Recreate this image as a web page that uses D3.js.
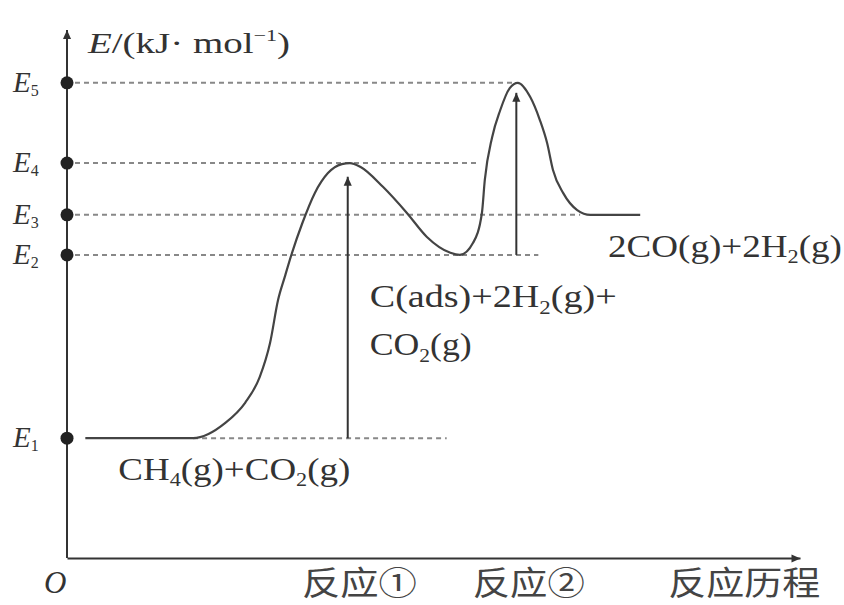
<!DOCTYPE html>
<html>
<head>
<meta charset="utf-8">
<script src="https://cdn.jsdelivr.net/npm/d3@7/dist/d3.min.js"></script>
<style>
  body { margin: 0; background: #fff; }
  svg { display: block; }
</style>
</head>
<body>
<svg id="chart" width="844" height="605"></svg>
<script>
// energy levels marked on the vertical axis (kJ/mol, arbitrary scale)
const levelSubs = ["1", "2", "3", "4", "5"];
const levelEnergy = [22.7, 57.4, 65.0, 74.8, 90.0];
// dashed guide extents along the reaction coordinate
const guideStart = [17.2, 0, 0, 0, 0];
const guideEnd = [51.8, 64.3, 70.0, 56.3, 61.2];

// energy profile along the reaction coordinate
const pathX = [2.5, 17.2, 21.6, 24.3, 26.3, 27.7, 28.8, 29.7, 30.7, 32.1, 33.8, 35.6, 37.5, 38.6,
  40.0, 43.1, 46.4, 49.1, 52.3, 53.6, 55.4, 56.6, 57.0, 58.0, 59.1, 60.4, 61.5,
  63.2, 64.5, 65.5, 66.3, 67.7, 69.6, 71.4, 78.2];
const pathE = [22.7, 22.7, 25.6, 29.4, 34.3, 40.7, 48.9, 53.2, 57.8, 63.4, 69.1, 72.9, 74.6, 74.8,
  74.1, 70.3, 65.3, 60.8, 57.8, 57.4, 59.7, 65.3, 71.6, 79.7, 84.8, 89.0, 90.0,
  87.3, 83.0, 78.6, 73.5, 69.1, 65.9, 65.0, 65.0];

// activation-energy arrows
const arrowX = [38.3, 61.3];
const arrowFrom = [22.7, 57.4];
const arrowTo = [72.2, 88.1];

// species labels ("_n" = subscript)
const speciesText = ["CH_4(g)+CO_2(g)", "C(ads)+2H_2(g)+", "CO_2(g)", "2CO(g)+2H_2(g)"];
const speciesX = [7.0, 41.3, 41.3, 73.8];
const speciesE = [14.8, 47.5, 38.4, 57.0];

const stageLabels = ["反应①", "反应②", "反应历程"];
const stageX = [39.9, 63.0, 92.4];

const width = 844;
const height = 605;
const SERIF = "'Liberation Serif', 'DejaVu Serif', serif";
const CJK = "'Noto Sans CJK SC', sans-serif";
const INK = "#333";

const svg = d3.select("#chart");

const x = d3.scaleLinear().domain([0, 100]).range([67, 800]);
const y = d3.scaleLinear().domain([0, 100]).range([558, 30]);

const defs = svg.append("defs");
defs.append("marker")
  .attr("id", "arrowhead")
  .attr("viewBox", "0 -5 10 10")
  .attr("refX", 10)
  .attr("refY", 0)
  .attr("orient", "auto")
  .attr("markerUnits", "userSpaceOnUse")
  .attr("markerWidth", 13)
  .attr("markerHeight", 9)
  .append("path")
  .attr("d", "M 0,-4.5 L 10,0 L 0,4.5 Z")
  .attr("fill", INK);

// dashed guides
svg.append("g")
  .selectAll("line")
  .data(levelEnergy)
  .join("line")
  .attr("x1", (d, i) => x(guideStart[i]) + (i === 0 ? 0 : 8))
  .attr("x2", (d, i) => x(guideEnd[i]))
  .attr("y1", (d) => y(d))
  .attr("y2", (d) => y(d))
  .attr("stroke", "#888")
  .attr("stroke-width", 2)
  .attr("stroke-dasharray", "5,4");

// axes
const xAxis = d3.axisBottom(x).tickValues([]).tickSizeOuter(0);
const yAxis = d3.axisLeft(y).tickValues([]).tickSizeOuter(0);

svg.append("g")
  .attr("transform", `translate(0,${y(0)})`)
  .call(xAxis)
  .call((g) => g.select(".domain")
    .attr("stroke", INK)
    .attr("stroke-width", 2)
    .attr("marker-end", "url(#arrowhead)"));

svg.append("g")
  .attr("transform", `translate(${x(0)},0)`)
  .call(yAxis)
  .call((g) => g.select(".domain")
    .attr("d", `M0,${y(0)}V${y(100)}`)
    .attr("stroke", INK)
    .attr("stroke-width", 2)
    .attr("marker-end", "url(#arrowhead)"));

// energy profile
const line = d3.line()
  .x((d, i) => x(pathX[i]))
  .y((d) => y(d))
  .curve(d3.curveMonotoneX);

svg.append("path")
  .datum(pathE)
  .attr("d", line)
  .attr("fill", "none")
  .attr("stroke", "#444")
  .attr("stroke-width", 2.2);

// activation arrows
svg.append("g")
  .selectAll("line")
  .data(arrowX)
  .join("line")
  .attr("x1", (d) => x(d))
  .attr("x2", (d) => x(d))
  .attr("y1", (d, i) => y(arrowFrom[i]))
  .attr("y2", (d, i) => y(arrowTo[i]))
  .attr("stroke", INK)
  .attr("stroke-width", 2)
  .attr("marker-end", "url(#arrowhead)");

// level dots
svg.append("g")
  .selectAll("circle")
  .data(levelEnergy)
  .join("circle")
  .attr("cx", x(0))
  .attr("cy", (d) => y(d))
  .attr("r", 6.5)
  .attr("fill", "#222");

// helper: text with "_n" subscripts
function richText(g, str, px, py, size, len) {
  const t = g.append("text")
    .attr("x", px)
    .attr("y", py)
    .attr("font-family", SERIF)
    .attr("font-size", size)
    .attr("fill", INK);
  let lowered = false;
  str.split(/(_\d)/).filter((s) => s).forEach((part) => {
    if (part.startsWith("_")) {
      t.append("tspan").attr("dy", size * 0.2).attr("font-size", size * 0.6).text(part.slice(1));
      lowered = true;
    } else {
      const ts = t.append("tspan").text(part);
      if (lowered) {
        ts.attr("dy", -size * 0.2);
        lowered = false;
      }
    }
  });
  if (len) {
    t.attr("textLength", len).attr("lengthAdjust", "spacingAndGlyphs");
  }
  return t;
}

// level labels E1..E5
const levelLabels = svg.append("g");
levelEnergy.forEach((e, i) => {
  const t = levelLabels.append("text")
    .attr("x", 13)
    .attr("y", y(e) + 9)
    .attr("font-family", SERIF)
    .attr("font-size", 29)
    .attr("fill", INK);
  t.append("tspan").attr("font-style", "italic").text("E");
  t.append("tspan").attr("font-size", 16).attr("dy", 4).text(levelSubs[i]);
});

// axis title
const title = svg.append("text")
  .attr("x", 88)
  .attr("y", 53)
  .attr("font-family", SERIF)
  .attr("font-size", 30)
  .attr("fill", INK)
  .attr("textLength", 202)
  .attr("lengthAdjust", "spacingAndGlyphs");
title.append("tspan").attr("font-style", "italic").text("E");
title.append("tspan").text("/(kJ· mol");
title.append("tspan").attr("font-size", 17).attr("dy", -12).text("−1");
title.append("tspan").attr("dy", 12).text(")");

// origin
svg.append("text")
  .attr("x", 44)
  .attr("y", 593)
  .attr("font-family", SERIF)
  .attr("font-style", "italic")
  .attr("font-size", 31)
  .attr("fill", INK)
  .text("O");

// species labels
const speciesWidth = [232, 247, 102, 234];
const speciesGroup = svg.append("g");
speciesText.forEach((s, i) => {
  richText(speciesGroup, s, x(speciesX[i]), y(speciesE[i]), 32, speciesWidth[i]);
});

// reaction stage labels
const stageWidth = [115, 112, 152];
svg.append("g")
  .selectAll("text")
  .data(stageLabels)
  .join("text")
  .attr("x", (d, i) => x(stageX[i]) - stageWidth[i] / 2)
  .attr("y", y(0) + 37)
  .attr("font-family", CJK)
  .attr("font-size", 33)
  .attr("fill", "#444")
  .attr("textLength", (d, i) => stageWidth[i])
  .attr("lengthAdjust", "spacingAndGlyphs")
  .text((d) => d);
</script>
</body>
</html>
